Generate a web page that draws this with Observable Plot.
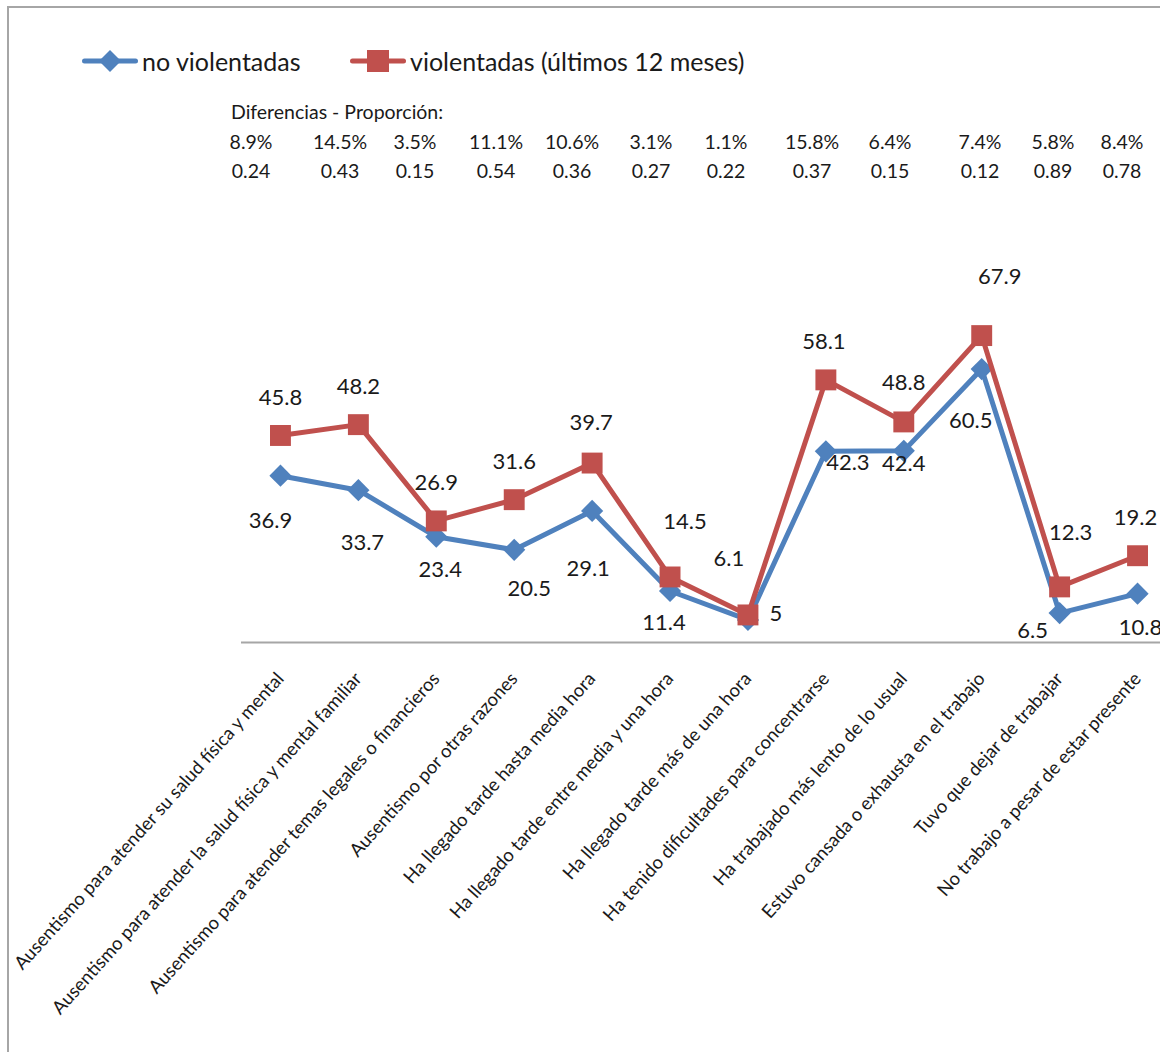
<!DOCTYPE html>
<html>
<head>
<meta charset="utf-8">
<script src="https://cdn.jsdelivr.net/npm/d3@7"></script>
<script src="https://cdn.jsdelivr.net/npm/@observablehq/plot@0.6"></script>
<style>
  html, body { margin: 0; padding: 0; background: #fff; }
  body { width: 1160px; height: 1052px; overflow: hidden; font-family: Lato, "Open Sans", sans-serif; color: #1a1a1a; }
  #wrap { position: relative; width: 1160px; height: 1052px; overflow: hidden; }
  #frame { position: absolute; left: 7px; top: 6px; width: 1200px; height: 1100px;
           border-left: 2px solid #a6a6a6; border-top: 2px solid #a6a6a6; pointer-events: none; }
  #plot { position: absolute; left: 0; top: 0; }
  .legend-item { position: absolute; top: 46px; height: 30px; display: flex; align-items: center; font-size: 25px; white-space: nowrap; }
  .legend-item svg { display: block; margin-right: 4px; }
  .note { position: absolute; font-size: 19.5px; line-height: 20px; white-space: nowrap; }
  .cell { position: absolute; font-size: 19.5px; line-height: 20px; white-space: nowrap; transform: translateX(-50%); }
</style>
</head>
<body>
<div id="wrap">
  <div id="plot"></div>
  <div id="legend"></div>
  <div id="notes"></div>
  <div id="frame"></div>
</div>
<script>
// Categories on the x axis
const categories = [
  "Ausentismo para atender su salud física y mental",
  "Ausentismo para atender la salud física y mental familiar",
  "Ausentismo para atender temas legales o financieros",
  "Ausentismo por otras razones",
  "Ha llegado tarde hasta media hora",
  "Ha llegado tarde entre media y una hora",
  "Ha llegado tarde más de una hora",
  "Ha tenido dificultades para concentrarse",
  "Ha trabajado más lento de lo usual",
  "Estuvo cansada o exhausta en el trabajo",
  "Tuvo que dejar de trabajar",
  "No trabajo a pesar de estar presente"
];

// Percentages per group
const noViolentadas = [36.9, 33.7, 23.4, 20.5, 29.1, 11.4, 5, 42.3, 42.4, 60.5, 6.5, 10.8];
const violentadas   = [45.8, 48.2, 26.9, 31.6, 39.7, 14.5, 6.1, 58.1, 48.8, 67.9, 12.3, 19.2];

// Differences block shown above the chart
const diffTitle = "Diferencias - Proporción:";
const diffPct   = ["8.9%", "14.5%", "3.5%", "11.1%", "10.6%", "3.1%", "1.1%", "15.8%", "6.4%", "7.4%", "5.8%", "8.4%"];
const diffRatio = ["0.24", "0.43", "0.15", "0.54", "0.36", "0.27", "0.22", "0.37", "0.15", "0.12", "0.89", "0.78"];

// Layout: column centres of the differences block, and value-label nudges [dx, dy]
const diffColumns = [251, 340, 415, 496, 572, 651, 726, 812, 890, 980, 1053, 1122];
const nudgeNo = [[-10, 45], [4, 53], [4, 33], [15, 39], [-4, 58], [-6, 32], [28, -6], [22, 12], [0, 13], [-11, 52], [-27, 18], [3, 34]];
const nudgeSi = [[0, -38], [0, -38], [0, -38], [0, -38], [-1, -40], [15, -55], [-19, -56], [-2, -38], [0, -39], [18, -59], [11, -54], [-2, -38]];

const BLUE = "#4F81BD";
const RED = "#C0504D";
const INK = "#1a1a1a";

const series = [
  {name: "no violentadas", values: noViolentadas, color: BLUE, symbol: "diamond2", r: 10, nudge: nudgeNo},
  {name: "violentadas (últimos 12 meses)", values: violentadas, color: RED, symbol: "square", r: 11.8, nudge: nudgeSi}
];

const marks = [Plot.ruleY([0], {stroke: "#a6a6a6", strokeWidth: 2})];
for (const s of series) {
  const rows = s.values.map((v, i) => ({cat: categories[i], value: v, i}));
  marks.push(Plot.line(rows, {x: "cat", y: "value", stroke: s.color, strokeWidth: 5, strokeLinejoin: "miter"}));
  marks.push(Plot.dot(rows, {x: "cat", y: "value", symbol: s.symbol, r: s.r, fill: s.color, stroke: "none"}));
}
for (const s of series) {
  s.values.forEach((v, i) => {
    const [dx, dy] = s.nudge[i];
    marks.push(Plot.text([{cat: categories[i], value: v}], {
      x: "cat", y: "value", text: d => String(d.value), dx, dy,
      fontSize: 22, fill: INK
    }));
  });
}
marks.push(Plot.axisX({
  tickSize: 0, tickRotate: -48, tickPadding: 33, dx: 0, fontSize: 18.5, fill: INK, label: null
}));

const chart = Plot.plot({
  width: 1160,
  height: 1052,
  marginTop: 190,
  marginBottom: 410,
  marginLeft: 241,
  marginRight: 0,
  style: {fontFamily: "Lato, 'Open Sans', sans-serif", background: "transparent", color: INK},
  x: {type: "point", domain: categories, range: [241, 1176], padding: 0.5, round: false},
  y: {domain: [0, 100], axis: null},
  marks
});
document.getElementById("plot").appendChild(chart);

// Legend
const legend = document.getElementById("legend");
const legendLeft = [82, 350];
series.forEach((s, k) => {
  const item = document.createElement("div");
  item.className = "legend-item";
  item.style.left = legendLeft[k] + "px";
  const sym = s.symbol === "square"
    ? `<rect x="${28 - 11}" y="4" width="22" height="22" fill="${s.color}"/>`
    : `<path d="M28,4 L39,15 L28,26 L17,15 Z" fill="${s.color}"/>`;
  item.innerHTML = `<svg width="56" height="30"><line x1="2.5" y1="15" x2="53.5" y2="15" stroke="${s.color}" stroke-width="5" stroke-linecap="round"/>${sym}</svg><span>${s.name}</span>`;
  legend.appendChild(item);
});

// Differences block
const notes = document.getElementById("notes");
const title = document.createElement("div");
title.className = "note";
title.style.left = "231px";
title.style.top = "102px";
title.textContent = diffTitle;
notes.appendChild(title);
[diffPct, diffRatio].forEach((row, r) => {
  row.forEach((t, i) => {
    const c = document.createElement("div");
    c.className = "cell";
    c.style.left = diffColumns[i] + "px";
    c.style.top = (132 + r * 29) + "px";
    c.textContent = t;
    notes.appendChild(c);
  });
});
</script>
</body>
</html>
